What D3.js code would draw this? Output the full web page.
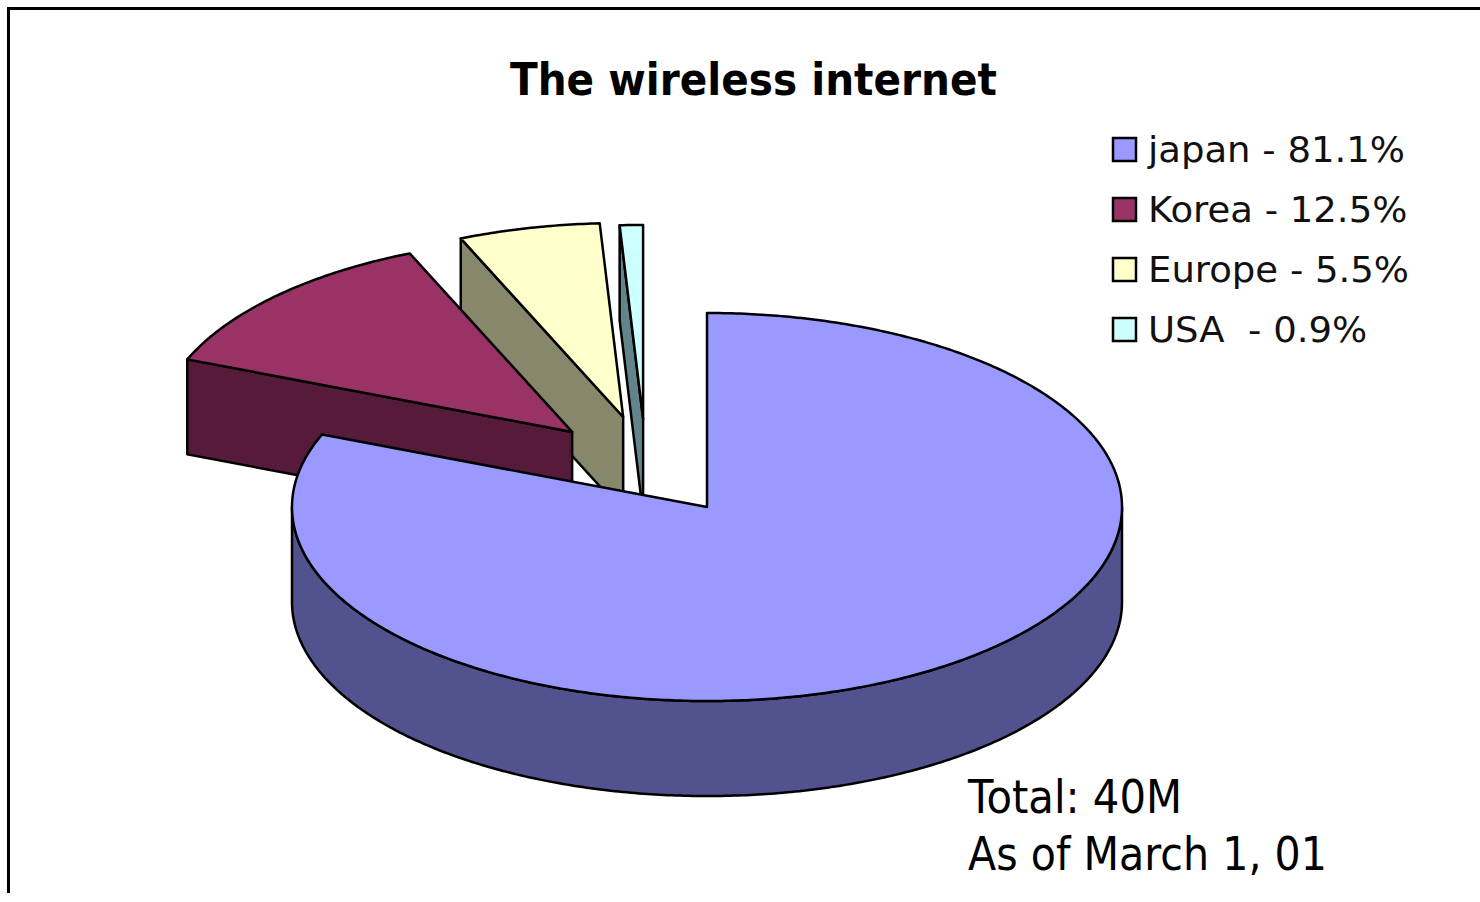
<!DOCTYPE html>
<html><head><meta charset="utf-8">
<script src="https://cdn.jsdelivr.net/npm/d3@7"></script>
<style>html,body{margin:0;padding:0;background:#fff;} svg{display:block}</style>
</head><body>
<svg id="chart" width="1480" height="902"></svg>
<script>
// ---- data ----
const categories = ["japan", "Korea", "Europe", "USA"];
const shares = [81.1, 12.5, 5.5, 0.9];
const legendLabels = ["japan - 81.1%", "Korea - 12.5%", "Europe - 5.5%", "USA  - 0.9%"];
const titleText = "The wireless internet";
const noteLines = ["Total: 40M", "As of March 1, 01"];

// ---- styles ----
const topColors = ["#9999FF", "#993366", "#FFFFCC", "#CCFFFF"];
const sideColors = ["#52528f", "#561a3a", "#87876b", "#62858c"];
// explosion of each slice, in units of the pie radii (x, y)
const explode = [[0, 0], [-0.325, -0.387], [-0.202, -0.464], [-0.154, -0.454]];

const W = 1480, H = 902;
const svg = d3.select("#chart");
svg.append("rect").attr("width", W).attr("height", H).attr("fill", "#fff");
svg.append("path").attr("d", "M8.5,893 L8.5,8.5 L1480,8.5")
  .attr("fill", "none").attr("stroke", "#000").attr("stroke-width", 3);

// ---- pie geometry ----
const cx = 707, cy = 507, rx = 415, ry = 194, depth = 95;
const topColor = d3.scaleOrdinal().domain(categories).range(topColors);
const sideColor = d3.scaleOrdinal().domain(categories).range(sideColors);
const arcs = d3.pie().sort(null).value(d => d)(shares)
  .map((a, i) => ({...a, cat: categories[i], off: explode[i]}));

function P(a, r, h, off) {
  return [cx + off[0] * rx + r * rx * Math.sin(a), cy + off[1] * ry - r * ry * Math.cos(a) + h];
}
function arcPts(a0, a1, h, off) {
  const n = Math.max(2, Math.ceil(Math.abs(a1 - a0) / 0.01));
  const pts = [];
  for (let k = 0; k <= n; k++) pts.push(P(a0 + (a1 - a0) * k / n, 1, h, off));
  return pts;
}
const line = d3.line().curve(d3.curveLinearClosed);
const g = svg.append("g").attr("stroke", "#000").attr("stroke-width", 2.5).attr("stroke-linejoin", "round");

const order = arcs.slice().reverse();
order.forEach(d => {
  const a0 = d.startAngle, a1 = d.endAngle, off = d.off;
  const faces = [];
  if (Math.sin(a0) < -1e-6) faces.push([P(a0, 0, 0, off), P(a0, 1, 0, off), P(a0, 1, depth, off), P(a0, 0, depth, off)]);
  if (Math.sin(a1) > 1e-6) faces.push([P(a1, 0, 0, off), P(a1, 1, 0, off), P(a1, 1, depth, off), P(a1, 0, depth, off)]);
  const lo = Math.max(a0, Math.PI / 2), hi = Math.min(a1, 3 * Math.PI / 2);
  if (hi > lo) faces.push(arcPts(lo, hi, 0, off).concat(arcPts(hi, lo, depth, off)));
  faces.forEach(f => g.append("path").attr("d", line(f)).attr("fill", sideColor(d.cat)));
  const topF = [P(0, 0, 0, off)].concat(arcPts(a0, a1, 0, off));
  g.append("path").attr("d", line(topF)).attr("fill", topColor(d.cat));
});

// ---- text helpers ----
function fit(sel, width) {
  sel.attr("textLength", width).attr("lengthAdjust", "spacingAndGlyphs");
}

// title
const title = svg.append("text").attr("x", 753.5).attr("y", 95).attr("text-anchor", "middle")
  .attr("font-family", "DejaVu Sans").attr("font-weight", "bold").attr("font-size", 44)
  .attr("fill", "#000").text(titleText);
fit(title, 487);

// legend
const ly = d3.scaleLinear().domain([0, categories.length - 1]).range([162, 342]);
const leg = svg.append("g");
categories.forEach((c, i) => {
  leg.append("rect").attr("x", 1113).attr("y", ly(i) - 24).attr("width", 23).attr("height", 23)
    .attr("fill", topColor(c)).attr("stroke", "#000").attr("stroke-width", 2.5);
  leg.append("text").attr("x", 1148).attr("y", ly(i)).attr("font-family", "DejaVu Sans")
    .attr("font-size", 36).attr("fill", "#111").style("white-space", "pre").text(legendLabels[i]);
});
const legTexts = leg.selectAll("text").nodes();
const ratio = 257 / legTexts[0].getComputedTextLength();
legTexts.forEach(n => fit(d3.select(n), n.getComputedTextLength() * ratio));

// notes
const noteY = [813, 870];
const noteW = [214, 359];
noteLines.forEach((t, i) => {
  const s = svg.append("text").attr("x", 968).attr("y", noteY[i]).attr("font-family", "DejaVu Sans")
    .attr("font-size", 47).attr("fill", "#000").text(t);
  fit(s, noteW[i]);
});
</script>
</body></html>
